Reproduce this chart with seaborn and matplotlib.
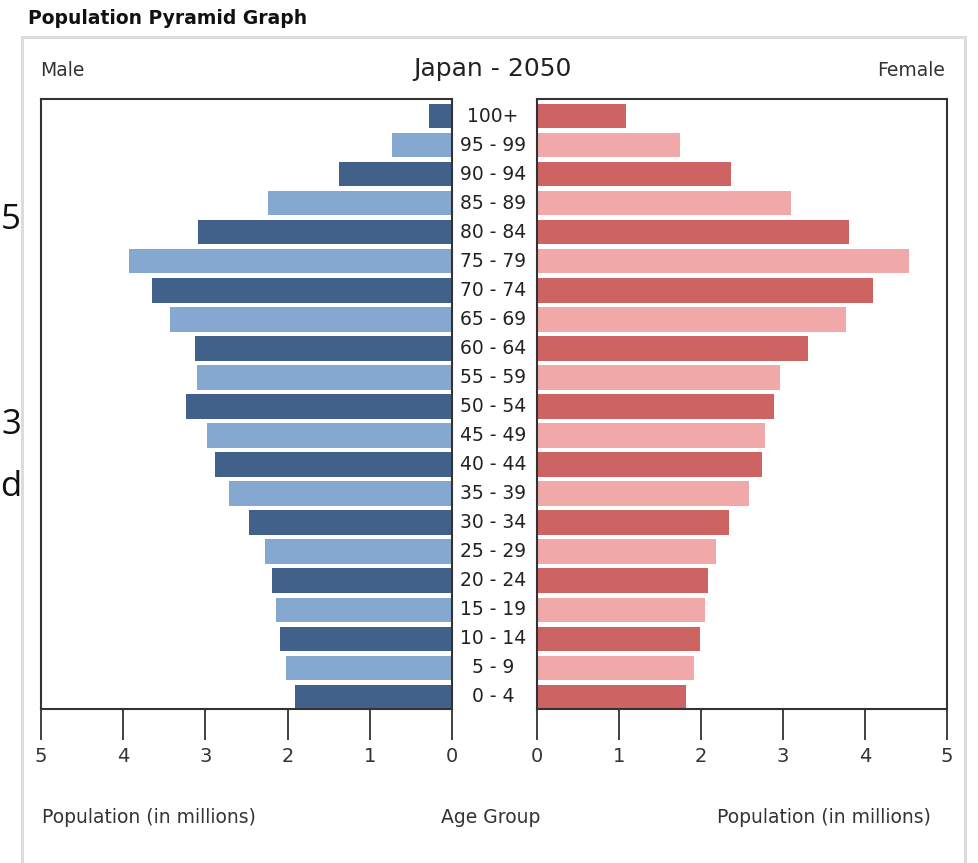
import matplotlib
matplotlib.use("Agg")
import matplotlib.pyplot as plt
import matplotlib.patches as mpatches
import matplotlib.transforms as mtransforms
from matplotlib import font_manager
import seaborn as sns
import pandas as pd

# ---- data ----
age_groups = ["100+", "95 - 99", "90 - 94", "85 - 89", "80 - 84", "75 - 79", "70 - 74",
              "65 - 69", "60 - 64", "55 - 59", "50 - 54", "45 - 49", "40 - 44", "35 - 39",
              "30 - 34", "25 - 29", "20 - 24", "15 - 19", "10 - 14", "5 - 9", "0 - 4"]
male = [0.28, 0.73, 1.38, 2.24, 3.09, 3.93, 3.65, 3.43, 3.13, 3.10, 3.24, 2.98, 2.88,
        2.71, 2.47, 2.27, 2.19, 2.14, 2.09, 2.02, 1.91]
female = [1.09, 1.74, 2.37, 3.10, 3.80, 4.54, 4.10, 3.77, 3.30, 2.96, 2.89, 2.78, 2.74,
          2.59, 2.34, 2.18, 2.09, 2.05, 1.99, 1.91, 1.82]
x_ticks = [0, 1, 2, 3, 4, 5]

male_colors = ["#41618a", "#84a8d0"]
female_colors = ["#cd6363", "#f0a8a8"]

sns.set_style("white")

fam = "DejaVu Sans"
for cand in ["DejaVu Sans Condensed", "Liberation Sans Narrow"]:
    try:
        font_manager.findfont(font_manager.FontProperties(family=cand), fallback_to_default=False)
        fam = cand
        break
    except Exception:
        pass
plt.rcParams["font.family"] = [fam, "DejaVu Sans"]

W, H = 979, 863
fig = plt.figure(figsize=(W / 100, H / 100), dpi=100)

def fx(px):
    return px / W

def fy(py):
    return 1 - py / H

df = pd.DataFrame({"age": age_groups, "male": male, "female": female})
pal_m = {a: male_colors[i % 2] for i, a in enumerate(age_groups)}
pal_f = {a: female_colors[i % 2] for i, a in enumerate(age_groups)}

top, bottom = 99, 709
axL = fig.add_axes([fx(41), fy(bottom), fx(452 - 41), (bottom - top) / H])
axR = fig.add_axes([fx(537), fy(bottom), fx(947 - 537), (bottom - top) / H])

sns.barplot(data=df, x="male", y="age", hue="age", order=age_groups, palette=pal_m,
            orient="h", width=0.84, linewidth=0, saturation=1, legend=False, ax=axL)
sns.barplot(data=df, x="female", y="age", hue="age", order=age_groups, palette=pal_f,
            orient="h", width=0.84, linewidth=0, saturation=1, legend=False, ax=axR)

n = len(age_groups)
for ax in (axL, axR):
    ax.set_ylim(n - 1 + 0.42, -0.59)
    ax.set_xticks(x_ticks)
    ax.set_xticklabels([str(t) for t in x_ticks])
    ax.set_yticks([])
    ax.set_xlabel("")
    ax.set_ylabel("")
    for s in ax.spines.values():
        s.set_visible(True)
        s.set_color("#333333")
        s.set_linewidth(1.5)
    ax.tick_params(axis="x", direction="out", length=22, width=1.3, color="#333333",
                   pad=5, labelsize=14, labelcolor="#333333", bottom=True)
axL.set_xlim(5, 0)
axR.set_xlim(0, 5)

# age group labels between the panels
tr = mtransforms.blended_transform_factory(fig.transFigure, axL.transData)
for i, a in enumerate(age_groups):
    axL.text(fx(493), i, a, transform=tr, ha="center", va="center", fontsize=13.5,
             color="#222222", clip_on=False)

# texts
fig.text(fx(28), fy(19), "Population Pyramid Graph", ha="left", va="center",
         fontsize=13.5, fontweight="bold", color="#111111")
fig.text(fx(492), fy(69), "Japan - 2050", ha="center", va="center", fontsize=18, color="#222222")
fig.text(fx(40), fy(70), "Male", ha="left", va="center", fontsize=13.5, color="#333333")
fig.text(fx(945), fy(70), "Female", ha="right", va="center", fontsize=13.5, color="#333333")
fig.text(fx(149), fy(817), "Population (in millions)", ha="center", va="center",
         fontsize=13.5, color="#333333")
fig.text(fx(491), fy(817), "Age Group", ha="center", va="center", fontsize=13.5, color="#333333")
fig.text(fx(824), fy(817), "Population (in millions)", ha="center", va="center",
         fontsize=13.5, color="#333333")

# outer frame
frame = mpatches.Rectangle((fx(22), fy(880)), fx(965 - 22), (880 - 37) / H,
                           transform=fig.transFigure, fill=False, edgecolor="#dcdcdc",
                           linewidth=2.2)
fig.patches.append(frame)

# clipped stray characters at left edge
for txt, py in [("5", 220), ("3", 425), ("d", 487)]:
    fig.text(fx(21), fy(py), txt, ha="right", va="center", fontsize=25,
             family=["Open Sans", "DejaVu Sans"], color="#111111")

fig.savefig("out.png", dpi=100)
